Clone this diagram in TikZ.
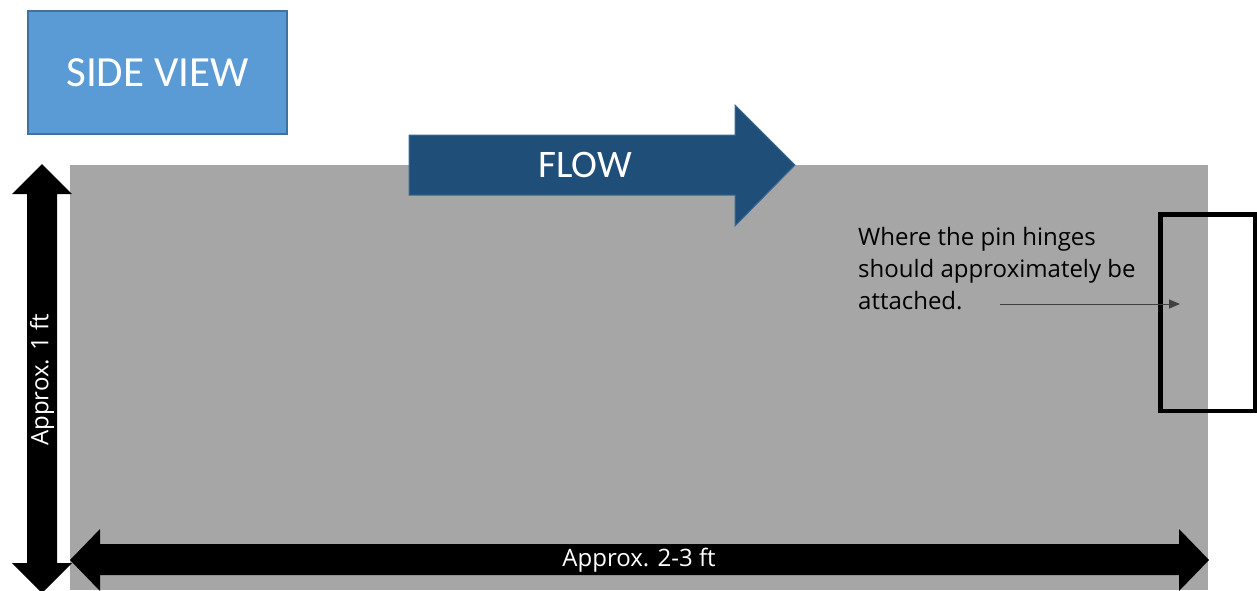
\documentclass[tikz,border=0pt]{standalone}
\usepackage{fontspec}
\setmainfont{Open Sans}
\newfontfamily\calfont{Carlito}
\usetikzlibrary{arrows.meta}
\definecolor{sideblue}{HTML}{5B9BD5}
\definecolor{sideedge}{HTML}{41719C}
\definecolor{flowblue}{HTML}{1F4E79}
\definecolor{flowedge}{HTML}{3A6A98}
\definecolor{bggray}{HTML}{A6A6A6}
\definecolor{pointer}{HTML}{404040}
\tikzset{
  sidebox/.style={fill=sideblue, draw=sideedge, line width=1.5pt, minimum width=259pt, minimum height=123pt, inner sep=0pt, text=white, font=\calfont\fontsize{43}{50}\selectfont},
  flowshape/.style={fill=flowblue, draw=flowedge, line width=1pt},
  dimarrow/.style={fill=black},
  dimlabel/.style={text=white, inner sep=0pt, font=\fontsize{24}{28}\selectfont},
  flowlabel/.style={text=white, inner sep=0pt, font=\calfont\fontsize{39}{44}\selectfont},
  notetext/.style={align=left, inner sep=0pt, text=black, font=\fontsize{24}{32}\selectfont},
  hingebox/.style={draw=black, line width=4.5pt},
  pointerline/.style={draw=pointer, line width=1pt, -{Triangle[length=11pt,width=9pt]}}
}
\begin{document}
\begin{tikzpicture}[x=1pt,y=-1pt]
\useasboundingbox (0,0) rectangle (1257,590);
% gray body
\fill[bggray] (70,165) rectangle (1208,590);
% side view label box
\node[sidebox] (side) at (157.5,72.5) {SIDE VIEW};
% flow arrow
\path[flowshape] (409,135) -- (735,135) -- (735,105) -- (795,165) -- (735,226) -- (735,195) -- (409,195) -- cycle;
\node[flowlabel] (flow) at (585,165) {FLOW};
% vertical dimension arrow
\path[dimarrow] (27,194) -- (12,194) -- (42,164) -- (72,194) -- (57,194) -- (57,563) -- (72,563) -- (42,593) -- (12,563) -- (27,563) -- cycle;
\node[dimlabel, rotate=90] (hdim) at (42,380) {Approx. 1 ft};
% horizontal dimension arrow
\path[dimarrow] (100,544) -- (100,529) -- (70,560) -- (100,591) -- (100,575) -- (1179,575) -- (1179,591) -- (1209,560) -- (1179,529) -- (1179,544) -- cycle;
\node[dimlabel] (wdim) at (639,560) {Approx. 2-3 ft};
% hinge location box
\draw[hingebox] (1160.25,214.25) rectangle (1254.75,410.75);
% annotation
\node[notetext, anchor=base west] (note) at (858,309) {Where the pin hinges\\should approximately be\\attached.};
\coordinate (pstart) at (1000,304);
\coordinate (pend) at (1180,304);
\draw[pointerline] (pstart) -- (pend);
\end{tikzpicture}
\end{document}
